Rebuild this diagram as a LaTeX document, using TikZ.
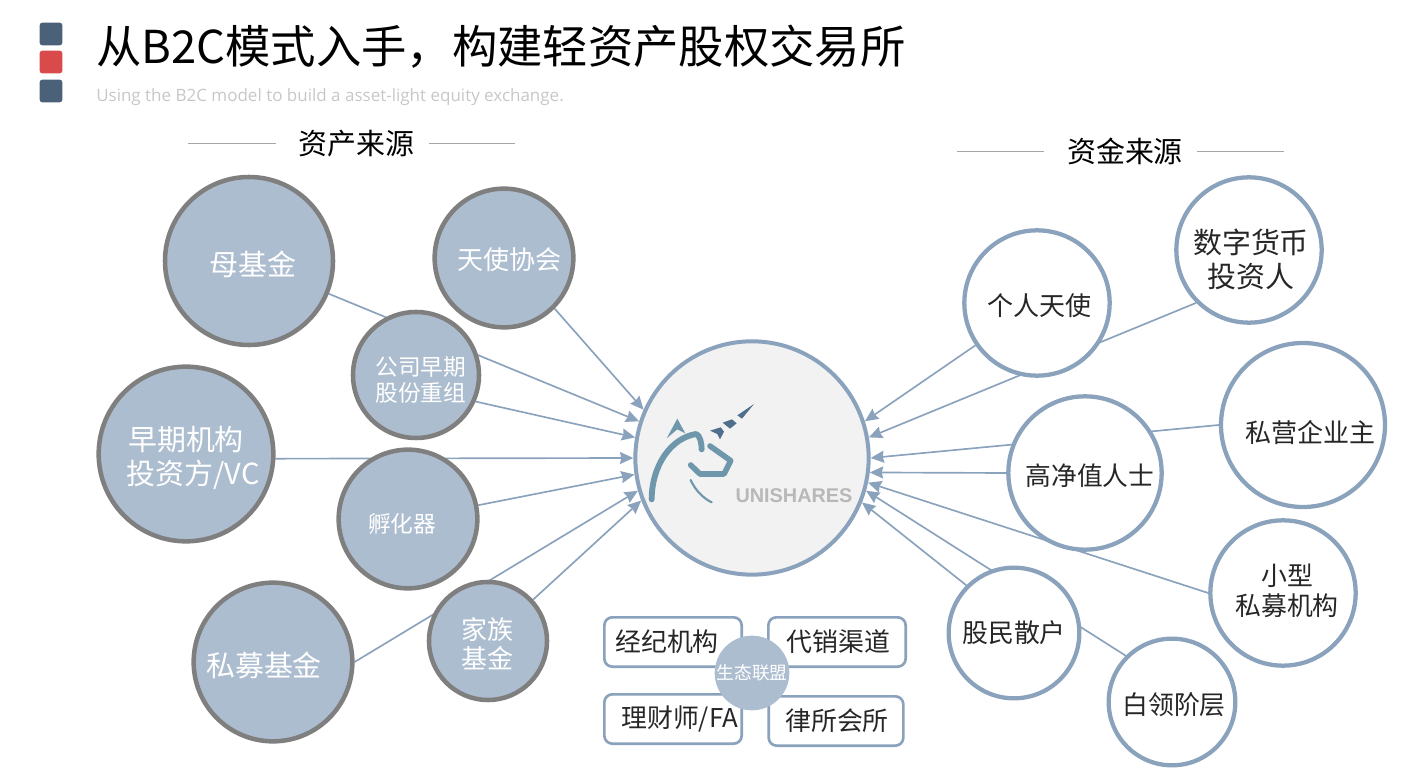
\documentclass[tikz,border=0pt]{standalone}
\usepackage{fontspec}
\setmainfont{Noto Sans CJK SC}
\newfontfamily\latinf{Liberation Sans}
\newfontfamily\subf{Open Sans}
\usetikzlibrary{arrows.meta,backgrounds}
\definecolor{blu}{HTML}{8AA2BC}
\definecolor{fil}{HTML}{ADBDD0}
\definecolor{grayb}{HTML}{7F7F7F}
\definecolor{navy}{HTML}{4A6179}
\definecolor{redb}{HTML}{D94B4B}
\definecolor{logo}{HTML}{6F97AC}
\definecolor{logod}{HTML}{4F6F8C}
\tikzset{
 srcnode/.style={circle,draw=grayb,line width=3.4pt,fill=fil,text=white,inner sep=0,align=center},
 fundnode/.style={circle,draw=blu,line width=3.2pt,fill=white,text=black!85,inner sep=0,align=center},
 conn/.style={draw=blu,line width=1.25pt,-{Stealth[length=10pt,width=9pt,inset=1pt]}},
 partner/.style={draw=blu,line width=2pt,rounded corners=6pt,fill=white,text=black!85,inner sep=0,minimum height=37pt},
 sq/.style={fill=navy,rounded corners=2pt,minimum width=17pt,minimum height=17pt,inner sep=0},
 rulel/.style={draw=black!35,line width=.7pt}
}
\newcommand{\fs}[1]{\fontsize{#1}{0}\selectfont}
% shift of a node's text: #1 twice the move to the right, #2 twice the move down
\newcommand{\tsh}[2]{\hspace*{#1}\rule{0pt}{\dimexpr.9em+#2\relax}}
\begin{document}
\begin{tikzpicture}[x=.75pt,y=-.75pt]
\useasboundingbox (0,0) rectangle (1418,773);
% title
\node[sq] (s1) at (51,34) {};
\node[sq,fill=redb] (s2) at (51,62) {};
\node[sq] (s3) at (51,91) {};
\node[anchor=west,inner sep=0,text=black] (title) at (96,47) {\fs{34}从B2C模式入手，构建轻资产股权交易所};
\node[anchor=west,inner sep=0,text=black!22] (sub) at (96,97) {\subf\fs{12.75}Using the B2C model to build a asset-light equity exchange.};
% headings
\node[inner sep=0] (h1) at (356.5,144) {\fs{21.7}资产来源};
\node[inner sep=0] (h2) at (1125,151) {\fs{21.7}资金来源};
\coordinate (h1a) at (188,143); \coordinate (h1b) at (276,143);
\coordinate (h1c) at (429,143); \coordinate (h1d) at (515,143);
\coordinate (h2a) at (957,151); \coordinate (h2b) at (1044,151);
\coordinate (h2c) at (1197,151); \coordinate (h2d) at (1284,151);
\draw[rulel] (h1a)--(h1b) (h1c)--(h1d) (h2a)--(h2b) (h2c)--(h2d);
% hub
\node[circle,draw=blu,line width=3pt,fill=black!5,minimum size=175pt,inner sep=0] (hub) at (752,458) {};
% logo
\begin{scope}[shift={(620,340)},x=.25pt,y=-.25pt]
 \draw[logo,line width=4.4pt,line cap=round,line join=round] (95,478) .. controls (95,380) and (150,295) .. (228,282) .. controls (240,285) and (245,310) .. (245,328);
 \fill[logo] (140,295) -- (172,236) -- (196,280) -- (172,268) -- cycle;
 \draw[logo,line width=4.2pt,line cap=round,line join=round] (270,318) -- (332,362) -- (312,402) -- (240,402) -- (212,375);
 \draw[logo,line width=1.6pt,line cap=round] (212,420) .. controls (225,450) and (250,475) .. (275,487);
 \fill[logod] (270,272) -- (302,262) -- (312,275) -- (300,298) -- (292,282) -- cycle;
 \fill[logod] (308,248) -- (336,238) -- (350,250) -- (330,266) -- cycle;
 \fill[logod] (352,226) -- (402,192) -- (366,236) -- cycle;
\end{scope}
\node[inner sep=0,text=black!28] (uni) at (794,496) {\latinf\bfseries\fs{14.9}UNISHARES};
% sources
\node[srcnode,minimum size=126pt] (mu) at (249,261) {\fs{21.7}\tsh{6pt}{4.5pt}母基金};
\node[srcnode,minimum size=104pt] (angel) at (504,258) {\fs{19.5}\tsh{7.5pt}{1.5pt}天使协会};
\node[srcnode,minimum size=94.5pt] (gongsi) at (416,375) {\fs{17}\tsh{7pt}{6pt}公司早期\\[3pt]\fs{17}\hspace*{7pt}股份重组};
\node[srcnode,minimum size=131pt] (zaoqi) at (186,454) {\fs{21.7}\tsh{0pt}{4.5pt}早期机构\\[4.5pt]\fs{21.7}\hspace*{10.5pt}投资方/VC};
\node[srcnode,minimum size=104pt] (fuhua) at (408,519) {\fs{17}\tsh{-9pt}{6pt}孵化器};
\node[srcnode,minimum size=119pt] (simu) at (273,662) {\fs{21.7}\tsh{-13.5pt}{4.5pt}私募基金};
\node[srcnode,minimum size=88.5pt] (jiazu) at (488,641) {\fs{19.5}\tsh{-1.5pt}{3pt}家族\\[3pt]\fs{19.5}\hspace*{-1.5pt}基金};
% funds
\node[fundnode,minimum size=109pt] (geren) at (1037,303) {\fs{19.5}\tsh{3pt}{3pt}个人天使};
\node[fundnode,minimum size=109pt] (shuzi) at (1249,250) {\fs{21.7}\tsh{3pt}{13pt}数字货币\\[5pt]\fs{21.7}\hspace*{3pt}投资人};
\node[fundnode,minimum size=115pt] (gaojing) at (1085,473) {\fs{19.3}\tsh{7.5pt}{3pt}高净值人士};
\node[fundnode,minimum size=123pt] (siying) at (1303,425) {\fs{19.5}\tsh{11pt}{10.5pt}私营企业主};
\node[fundnode,minimum size=109pt] (xiaoxing) at (1283,593) {\fs{19.4}\hspace*{6pt}小型\\[4pt]\fs{19.4}\hspace*{6pt}私募机构\rule[-5pt]{0pt}{5pt}};
\node[fundnode,minimum size=98pt] (gumin) at (1014,633) {\fs{19.4}股民散户};
\node[fundnode,minimum size=95pt] (bailing) at (1172,702) {\fs{19.4}\tsh{3pt}{3pt}白领阶层};
% partners
\node[partner,minimum width=103pt] (jingji) at (673,642) {\fs{19.4}\hspace*{-9pt}经纪机构};
\node[partner,minimum width=103pt] (daixiao) at (837,642) {\fs{19.4}\hspace*{2pt}代销渠道};
\node[partner,minimum width=103pt] (licai) at (673,719) {\fs{19.4}\hspace*{10pt}理财师/FA};
\node[partner,minimum width=101pt] (lvsuo) at (836,721) {\fs{19.4}\hspace*{1.5pt}律所会所};
\node[circle,fill=fil,text=white,minimum size=56pt,inner sep=0] (eco) at (752,673) {\fs{13.3}生态联盟};
% connectors
\begin{scope}[on background layer]
 \draw[conn] (mu) -- (hub.162.5);
 \draw[conn] (angel.-45) -- (hub.156.7);
 \draw[conn] (gongsi.-24) -- (hub.170);
 \draw[conn] (zaoqi.-3) -- (hub.180);
 \draw[conn] (fuhua) -- (hub.188.6);
 \draw[conn] (simu.east) -- (hub.196);
 \draw[conn] (jiazu) -- (hub.201.4);
 \draw[conn] (geren) -- (hub.18);
 \draw[conn] (shuzi.225) -- (hub.10);
 \draw[conn] (gaojing.west) -- (hub.-7);
 \draw[conn] (siying.west) -- (hub.0.5);
 \draw[conn] (xiaoxing.west) -- (hub.-12);
 \draw[conn] (gumin.135) -- (hub.-22.5);
 \draw[conn] (bailing.135) -- (hub.-16.5);
\end{scope}
\end{tikzpicture}
\end{document}
